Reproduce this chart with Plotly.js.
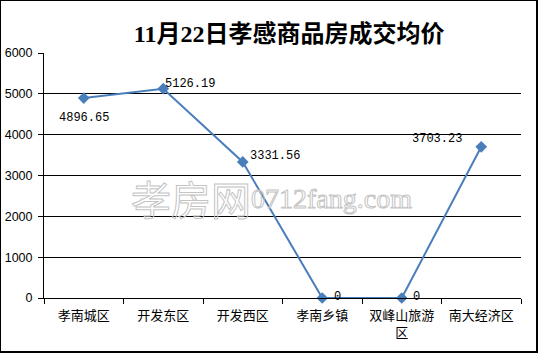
<!DOCTYPE html>
<html>
<head>
<meta charset="utf-8">
<script src="https://cdn.plot.ly/plotly-3.0.1.min.js"></script>
<style>
html,body{margin:0;padding:0;background:#fff;}
#wrap{position:relative;width:539px;height:354px;}
#chart{position:absolute;left:0;top:0;width:539px;height:354px;}
#frame{position:absolute;left:0;top:0;width:535px;height:350px;border:1px solid #000;border-right-width:2px;border-bottom-width:2px;pointer-events:none;}
</style>
</head>
<body>
<div id="wrap"><div id="chart"></div><div id="frame"></div></div>
<script>
var categories = ['孝南城区', '开发东区', '开发西区', '孝南乡镇', '双峰山旅游区', '南大经济区'];
var tickLabels = ['孝南城区', '开发东区', '开发西区', '孝南乡镇', '双峰山旅游<br>区', '南大经济区'];
var prices = [4896.65, 5126.19, 3331.56, 0, 0, 3703.23];
var priceLabels = ['4896.65', '5126.19', '3331.56', '0', '0', '3703.23'];
var titleText = '11月22日孝感商品房成交均价';
var yTicks = [0, 1000, 2000, 3000, 4000, 5000, 6000];

// label offsets (pixels) – styling, not data
var labelShift = [[0, -20], [27, 5], [32, 6], [15, 1], [15, 1], [-44, 8]];

var trace = {
  x: categories,
  y: prices,
  type: 'scatter',
  mode: 'lines+markers',
  line: {color: '#4a7ebb', width: 2},
  marker: {symbol: 'diamond', size: 9, color: '#4a7ebb'},
  cliponaxis: false,
  hoverinfo: 'none'
};

var annotations = [
  {
    text: '孝房网', xref: 'paper', yref: 'paper', x: 0.308, y: 0.408,
    xanchor: 'center', yanchor: 'middle', showarrow: false,
    font: {family: 'Noto Sans CJK SC, sans-serif', size: 40, color: 'rgba(255,255,255,0)'}
  },
  {
    text: '0712fang.com', xref: 'paper', yref: 'paper', x: 0.602, y: 0.408,
    xanchor: 'center', yanchor: 'middle', showarrow: false,
    font: {family: 'Liberation Serif, serif', size: 28, color: 'rgba(255,255,255,0)'}
  }
];
prices.forEach(function (v, i) {
  annotations.push({
    x: categories[i], y: v, xref: 'x', yref: 'y',
    text: priceLabels[i], showarrow: false,
    xanchor: 'center', yanchor: 'middle',
    xshift: labelShift[i][0], yshift: labelShift[i][1],
    font: {family: 'Liberation Mono, DejaVu Sans Mono, monospace', size: 12, color: '#000'}
  });
});

var layout = {
  width: 539,
  height: 354,
  margin: {l: 44, r: 18, t: 53, b: 56},
  paper_bgcolor: '#fff',
  plot_bgcolor: '#fff',
  showlegend: false,
  title: {
    text: '<b>' + titleText + '</b>',
    font: {family: 'Liberation Serif, Noto Sans CJK SC, serif', size: 24, color: '#000'},
    x: 0.514, xanchor: 'center', xref: 'paper',
    y: 0.905, yanchor: 'middle', yref: 'container'
  },
  xaxis: {
    type: 'category',
    tickmode: 'array',
    tickvals: categories,
    ticktext: tickLabels,
    tickson: 'boundaries',
    ticks: 'outside',
    ticklen: 5,
    tickcolor: '#000',
    ticklabelstandoff: 5,
    showgrid: false,
    showline: true,
    linecolor: '#000',
    linewidth: 1,
    tickfont: {family: 'Noto Sans CJK SC, sans-serif', size: 13, color: '#000'},
    range: [-0.5, 5.5],
    fixedrange: true
  },
  yaxis: {
    range: [0, 6000],
    tickmode: 'array',
    tickvals: yTicks,
    ticktext: yTicks.map(String),
    ticks: 'outside',
    ticklen: 5,
    tickcolor: '#000',
    ticklabelstandoff: 3,
    showgrid: true,
    gridcolor: '#000',
    gridwidth: 1,
    showline: true,
    linecolor: '#000',
    linewidth: 1,
    zeroline: false,
    tickfont: {family: 'Liberation Sans, Arial, sans-serif', size: 12.5, color: '#000'},
    fixedrange: true
  },
  annotations: annotations
};

Plotly.newPlot('chart', [trace], layout, {displayModeBar: false, staticPlot: true}).then(function () {
  var texts = document.querySelectorAll('#chart .annotation-text');
  for (var k = 0; k < 2 && k < texts.length; k++) {
    texts[k].style.stroke = '#c4c4c4';
    texts[k].style.strokeWidth = '1px';
  }
});
</script>
</body>
</html>
